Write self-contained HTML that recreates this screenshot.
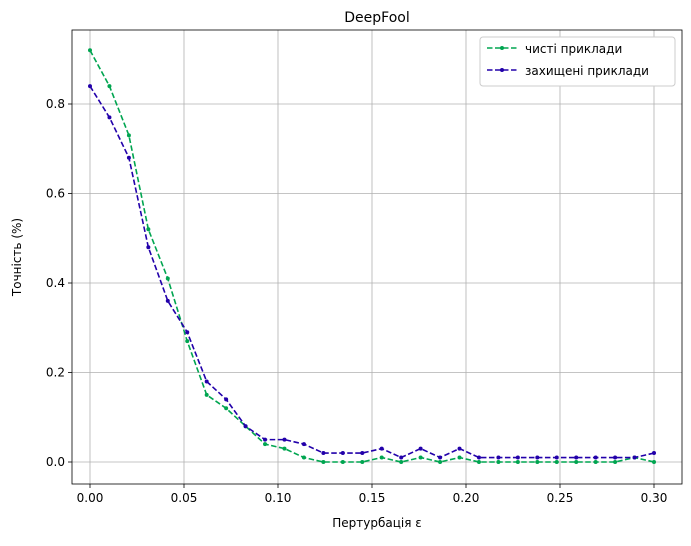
<!DOCTYPE html>
<html><head><meta charset="utf-8"><style>
body{margin:0;background:#fff;font-family:"Liberation Sans","DejaVu Sans",sans-serif}
svg text{font-family:"DejaVu Sans","Liberation Sans",sans-serif}
</style></head><body>
<svg id="c" width="691" height="541" xmlns="http://www.w3.org/2000/svg"></svg>
<script>
const clean=[0.92,0.84,0.73,0.52,0.41,0.27,0.15,0.12,0.08,0.04,0.03,0.01,0,0,0,0.01,0,0.01,0,0.01,0,0,0,0,0,0,0,0,0.01,0];
const defended=[0.84,0.77,0.68,0.48,0.36,0.29,0.18,0.14,0.08,0.05,0.05,0.04,0.02,0.02,0.02,0.03,0.01,0.03,0.01,0.03,0.01,0.01,0.01,0.01,0.01,0.01,0.01,0.01,0.01,0.02];
const xTicks=[0,0.05,0.10,0.15,0.20,0.25,0.30];
const xTickLabels=["0.00","0.05","0.10","0.15","0.20","0.25","0.30"];
const yTicks=[0,0.2,0.4,0.6,0.8];
const yTickLabels=["0.0","0.2","0.4","0.6","0.8"];
const eps=clean.map((_,i)=>0.3*i/(clean.length-1));
const L=72,R=682,T=30,B=484;
const X=v=>90+v*(654-90)/0.3;
const Y=v=>462-v*(462-104)/0.8;
const s=document.getElementById('c');const NS='http://www.w3.org/2000/svg';
function el(t,a,txt){const e=document.createElementNS(NS,t);for(const k in a)e.setAttribute(k,a[k]);if(txt!=null)e.textContent=txt;s.appendChild(e);return e;}
xTicks.forEach((v,i)=>{
 let g=el('line',{x1:X(v),x2:X(v),y1:T,y2:B,stroke:'#b0b0b0','stroke-width':0.8});
 
 let t=el('line',{x1:X(v),x2:X(v),y1:B,y2:B+4,stroke:'#000','stroke-width':0.8});
 
 let l=el('text',{x:X(v),y:B+18,'text-anchor':'middle','font-size':12},xTickLabels[i]);
 
});
yTicks.forEach((v,i)=>{
 let g=el('line',{x1:L,x2:R,y1:Y(v),y2:Y(v),stroke:'#b0b0b0','stroke-width':0.8});
 
 let t=el('line',{x1:L-4,x2:L,y1:Y(v),y2:Y(v),stroke:'#000','stroke-width':0.8});
 
 let l=el('text',{x:L-7,y:Y(v)+4,'text-anchor':'end','font-size':12},yTickLabels[i]);
 
});
function series(d,c,name){
 let p=el('polyline',{points:d.map((v,i)=>X(eps[i])+','+Y(v)).join(' '),fill:'none',stroke:c,'stroke-width':1.6,'stroke-dasharray':'5.5,2.5'});
 
 d.forEach((v,i)=>{let m=el('circle',{cx:X(eps[i]),cy:Y(v),r:2,fill:c});
 });
}
series(clean,'#00a550','clean');
series(defended,'#2200aa','defended');
let fr=el('rect',{x:L,y:T,width:R-L,height:B-T,fill:'none',stroke:'#000','stroke-width':0.8});

let ti=el('text',{x:(L+R)/2,y:22,'text-anchor':'middle','font-size':14},'DeepFool');

let xt=el('text',{x:(L+R)/2,y:527,'text-anchor':'middle','font-size':12},'Пертурбація ε');

let yt=el('text',{x:21,y:(T+B)/2,'text-anchor':'middle','font-size':12,transform:'rotate(-90 21 '+(T+B)/2+')'},'Точність (%)');

let lg=el('rect',{x:480,y:37,width:195,height:49,fill:'#fff',stroke:'#ccc',rx:3});

[['#00a550','чисті приклади',53],['#2200aa','захищені приклади',75]].forEach(([c,n,y])=>{
 let ln=el('line',{x1:487,x2:517,y1:y-5,y2:y-5,stroke:c,'stroke-width':1.6,'stroke-dasharray':'5.5,2.5'});
 
 let d=el('circle',{cx:502,cy:y-5,r:2,fill:c});
 
 let t=el('text',{x:525,y:y,'font-size':12},n);
 
});
</script>
</body></html>
